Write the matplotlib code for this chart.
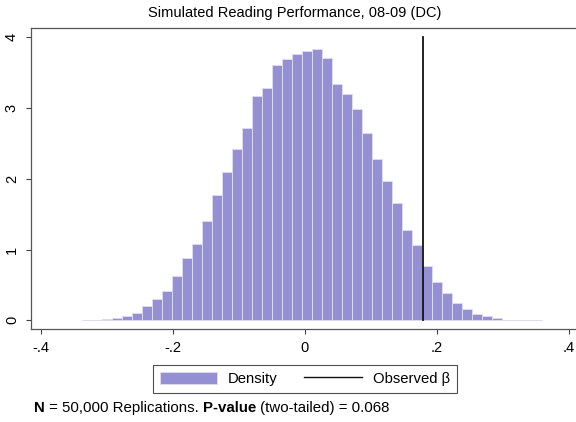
import matplotlib
matplotlib.use("Agg")
import matplotlib.pyplot as plt
from matplotlib.patches import Patch
from matplotlib.lines import Line2D
import numpy as np

plt.rcParams['font.family'] = ['Liberation Sans', 'DejaVu Sans']

# histogram (density)
bin_start = -0.3379
bin_width = 0.01514
density = [0.004, 0.008, 0.015, 0.03, 0.066, 0.11, 0.205, 0.30, 0.415, 0.62,
           0.88, 1.08, 1.40, 1.77, 2.09, 2.42, 2.72, 3.17, 3.28, 3.61,
           3.69, 3.76, 3.80, 3.83, 3.70, 3.34, 3.20, 2.99, 2.64, 2.28,
           1.97, 1.66, 1.28, 1.06, 0.77, 0.54, 0.38, 0.24, 0.16, 0.085,
           0.057, 0.028, 0.008, 0.005, 0.003, 0.002]
beta_obs = 0.1785
line_top = 4.0

xticks = [-0.4, -0.2, 0, 0.2, 0.4]
xticklabels = ['-.4', '-.2', '0', '.2', '.4']
yticks = [0, 1, 2, 3, 4]

title = 'Simulated Reading Performance, 08-09 (DC)'
bar_col = '#9590d4'
edge_col = '#dcdaf0'

W, H = 576, 422
fig = plt.figure(figsize=(W/100, H/100), dpi=100)
ax = fig.add_axes([30.7/W, 1-329.3/H, (579-30.7)/W, (329.3-27.7)/H])

lefts = bin_start + bin_width*np.arange(len(density))
ax.bar(lefts, density, width=bin_width, align='edge', color=bar_col,
       edgecolor=edge_col, linewidth=0.7)
ax.plot([beta_obs, beta_obs], [0, line_top], color='#111111', lw=1.3)

ax.set_xlim(-0.4151, 0.4151)
ax.set_ylim(-0.127, 4.133)
ax.set_xticks(xticks)
ax.set_xticklabels(xticklabels)
ax.set_yticks(yticks)
ax.set_yticklabels([str(v) for v in yticks], rotation=90, va='center')
ax.tick_params(direction='out', length=3.5, width=0.8, color='#444444',
               labelsize=10.5, pad=5)
for s in ax.spines.values():
    s.set_color('#555555')
    s.set_linewidth(0.9)

fig.text(295/W, 1-13/H, title, ha='center', va='center', fontsize=10.5)

handles = [Patch(facecolor=bar_col, edgecolor=edge_col, lw=0.7),
           Line2D([0], [0], color='#111111', lw=1.0)]
leg = fig.legend(handles, ['Density', 'Observed β'], loc='center',
                 bbox_to_anchor=(304.7/W, 1-378.8/H), ncol=2, fontsize=10.7,
                 frameon=True, fancybox=False, handlelength=3.9,
                 handleheight=0.9, columnspacing=1.8, handletextpad=0.7,
                 borderpad=0.45, borderaxespad=0)
leg.get_frame().set_edgecolor('#222222')
leg.get_frame().set_linewidth(0.8)

# footnote with bold parts
pieces = [('N', 'bold'), (' = 50,000 Replications. ', 'normal'),
          ('P-value', 'bold'), (' (two-tailed) = 0.068', 'normal')]
fig.canvas.draw()
r = fig.canvas.get_renderer()
x = 34/W
for s, w in pieces:
    t = fig.text(x, 1-408/H, s, fontweight=w, fontsize=10.8, va='center')
    x += t.get_window_extent(r).width/W

fig.savefig('out.png', dpi=100)
